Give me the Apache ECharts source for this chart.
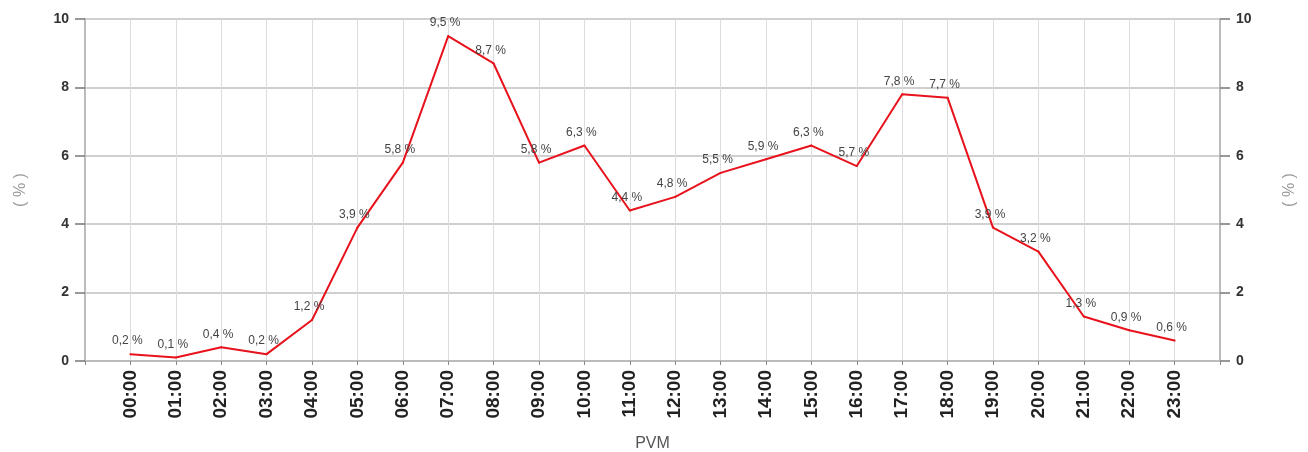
<!DOCTYPE html>
<html><head><meta charset="utf-8">
<script src="https://cdn.jsdelivr.net/npm/echarts@6/dist/echarts.min.js"></script>
<style>html,body{margin:0;padding:0;background:#fff}#c{width:1308px;height:452px}</style>
</head><body><div id="c"></div>
<script>
const hours = ["00:00","01:00","02:00","03:00","04:00","05:00","06:00","07:00","08:00","09:00","10:00","11:00","12:00","13:00","14:00","15:00","16:00","17:00","18:00","19:00","20:00","21:00","22:00","23:00"];
const values = [0.2,0.1,0.4,0.2,1.2,3.9,5.8,9.5,8.7,5.8,6.3,4.4,4.8,5.5,5.9,6.3,5.7,7.8,7.7,3.9,3.2,1.3,0.9,0.6];
const yTicks = [0,2,4,6,8,10];

const chart = echarts.init(document.getElementById('c'), null, {renderer:'canvas'});
const yCommon = {
  type:'value', min:0, max:10, interval:2,
  name:'( % )', nameLocation:'middle', nameRotate:90,
  nameTextStyle:{color:'#999', fontSize:16, fontFamily:'Liberation Sans'},
  axisLine:{show:true, onZero:false, lineStyle:{color:'#bbb', width:2}},
  axisTick:{show:true, length:10, lineStyle:{color:'#777', width:1.5}},
  axisLabel:{color:'#333', fontWeight:'bold', fontSize:14, fontFamily:'Liberation Sans', margin:16,
    formatter: v => yTicks.includes(v) ? String(v) : ''}
};
chart.setOption({
  animation:false,
  grid:{left:85, right:88, top:19, bottom:91, containLabel:false, outerBoundsMode:'none'},
  xAxis:{
    type:'value', min:-1, max:24, interval:1,
    name:'PVM', nameLocation:'middle', nameGap:75,
    nameTextStyle:{color:'#555', fontSize:16, fontFamily:'Liberation Sans'},
    axisLine:{show:true, onZero:false, lineStyle:{color:'#bbb', width:2}},
    axisTick:{show:true, length:4, lineStyle:{color:'#888'}},
    splitLine:{show:true, lineStyle:{color:'#dcdcdc', width:1}},
    axisLabel:{rotate:90, color:'#222', fontWeight:'bold', fontSize:19, fontFamily:'Liberation Sans', margin:9,
      formatter: v => (v >= 0 && v < hours.length) ? hours[v] : ''}
  },
  yAxis:[
    Object.assign({}, yCommon, {position:'left', nameGap:56,
      splitLine:{show:true, lineStyle:{color:'#d0d0d0', width:2}}}),
    Object.assign({}, yCommon, {position:'right', nameGap:62, splitLine:{show:false}})
  ],
  series:[{
    type:'line',
    data: values.map((v,i)=>[i,v]),
    symbol:'circle', symbolSize:2, showSymbol:true,
    itemStyle:{color:'#e8121c', borderWidth:0},
    lineStyle:{color:'#e8121c', width:2},
    label:{show:true, position:'top', distance:6, offset:[-3,0],
      color:'#444', fontSize:12, fontFamily:'Liberation Sans',
      formatter: p => p.value[1].toFixed(1).replace('.', ',') + ' %'}
  }]
});
</script></body></html>
